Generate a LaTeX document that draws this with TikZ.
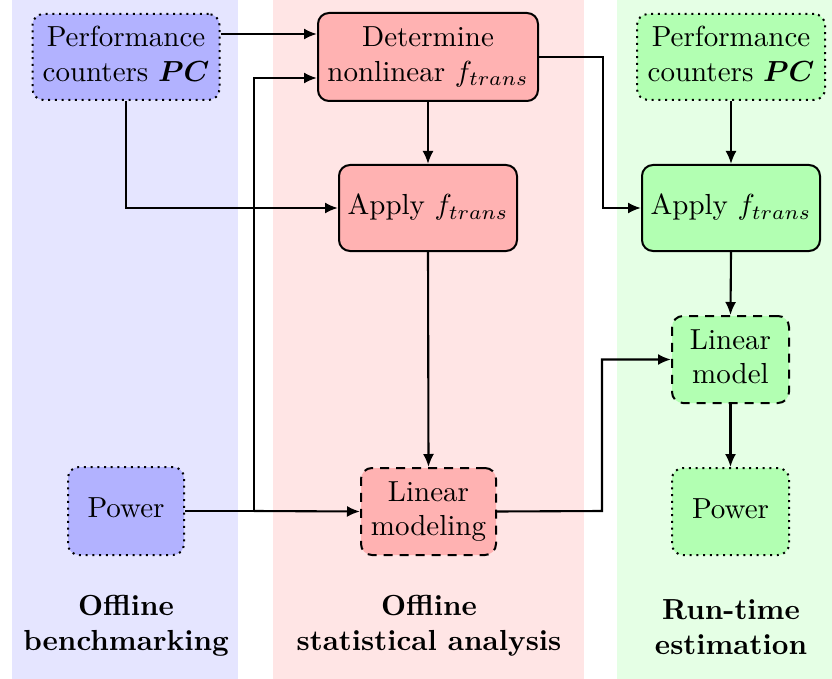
\documentclass[tikz,border=0pt]{standalone}
\usepackage{bm}
\usepackage{graphicx}
\usetikzlibrary{arrows.meta,calc}
\newcommand\Tx[1]{\scalebox{2.9}{\begin{tabular}{@{}c@{}}#1\end{tabular}}}
\begin{document}
\begin{tikzpicture}[x=1pt,y=-1pt,
  box/.style={draw=black, line width=2pt, rounded corners=11pt, inner sep=0pt, align=center},
  dotb/.style={box, dash pattern=on 2pt off 4.7pt},
  dashb/.style={box, dash pattern=on 9pt off 7pt},
  conn/.style={line width=2.1pt},
  arr/.style={conn, -{Latex[length=13pt,width=11pt]}},
  lab/.style={inner sep=0pt, align=center}
]
\useasboundingbox (0,0) rectangle (832,679);
% background columns
\fill[blue!10] (12,0) rectangle (238,679);
\fill[red!10] (273,0) rectangle (584,679);
\fill[green!10] (617,0) rectangle (832,679);

% nodes
\node[dotb, fill=blue!30, minimum width=187pt, minimum height=86pt] (pcb) at (126,57) {\Tx{Performance\\counters $\bm{PC}$}};
\node[dotb, fill=blue!30, minimum width=116pt, minimum height=88pt] (powb) at (126,511) {\Tx{Power}};
\node[box, fill=red!30, minimum width=220pt, minimum height=88pt] (det) at (428,57) {\Tx{Determine\\nonlinear $f_{trans}$}};
\node[box, fill=red!30, minimum width=178pt, minimum height=86pt] (applyp) at (428,208) {\Tx{Apply $f_{trans}$}};
\node[dashb, fill=red!30, minimum width=135pt, minimum height=87pt] (lmg) at (428.5,511.5) {\Tx{Linear\\modeling}};
\node[dotb, fill=green!30, minimum width=188pt, minimum height=86pt] (pcg) at (731,57) {\Tx{Performance\\counters $\bm{PC}$}};
\node[box, fill=green!30, minimum width=178pt, minimum height=86pt] (applyg) at (731,208) {\Tx{Apply $f_{trans}$}};
\node[dashb, fill=green!30, minimum width=117pt, minimum height=87pt] (lm) at (730.5,359.5) {\Tx{Linear\\model}};
\node[dotb, fill=green!30, minimum width=117pt, minimum height=87pt] (powg) at (730.5,511.5) {\Tx{Power}};

% labels
\node[lab] (l1) at (126,626) {\Tx{\bfseries Offline\\\bfseries benchmarking}};
\node[lab] (l2) at (429,626) {\Tx{\bfseries Offline\\\bfseries statistical analysis}};
\node[lab] (l3) at (731,630) {\Tx{\bfseries Run-time\\\bfseries estimation}};

% connectors
\coordinate (br) at (254,511);
\coordinate (c1) at (603,57);
\coordinate (c2) at (602,511);
\draw[arr] ([yshift=23pt]pcb.east) -- ([yshift=23pt]det.west);
\draw[conn] (powb.east) -- (br);
\draw[arr] (br) -- (lmg.west);
\draw[arr] (br) |- ([yshift=-21pt]det.west);
\draw[arr] (pcb.south) |- (applyp.west);
\draw[arr] (det.south) -- (applyp.north);
\draw[arr] (det.east) -- (c1) |- (applyg.west);
\draw[arr] (applyp.south) -- (lmg.north);
\draw[arr] (lmg.east) -- (c2) |- (lm.west);
\draw[arr] (pcg.south) -- (applyg.north);
\draw[arr] (applyg.south) -- (lm.north);
\draw[arr] (lm.south) -- (powg.north);
\end{tikzpicture}
\end{document}
